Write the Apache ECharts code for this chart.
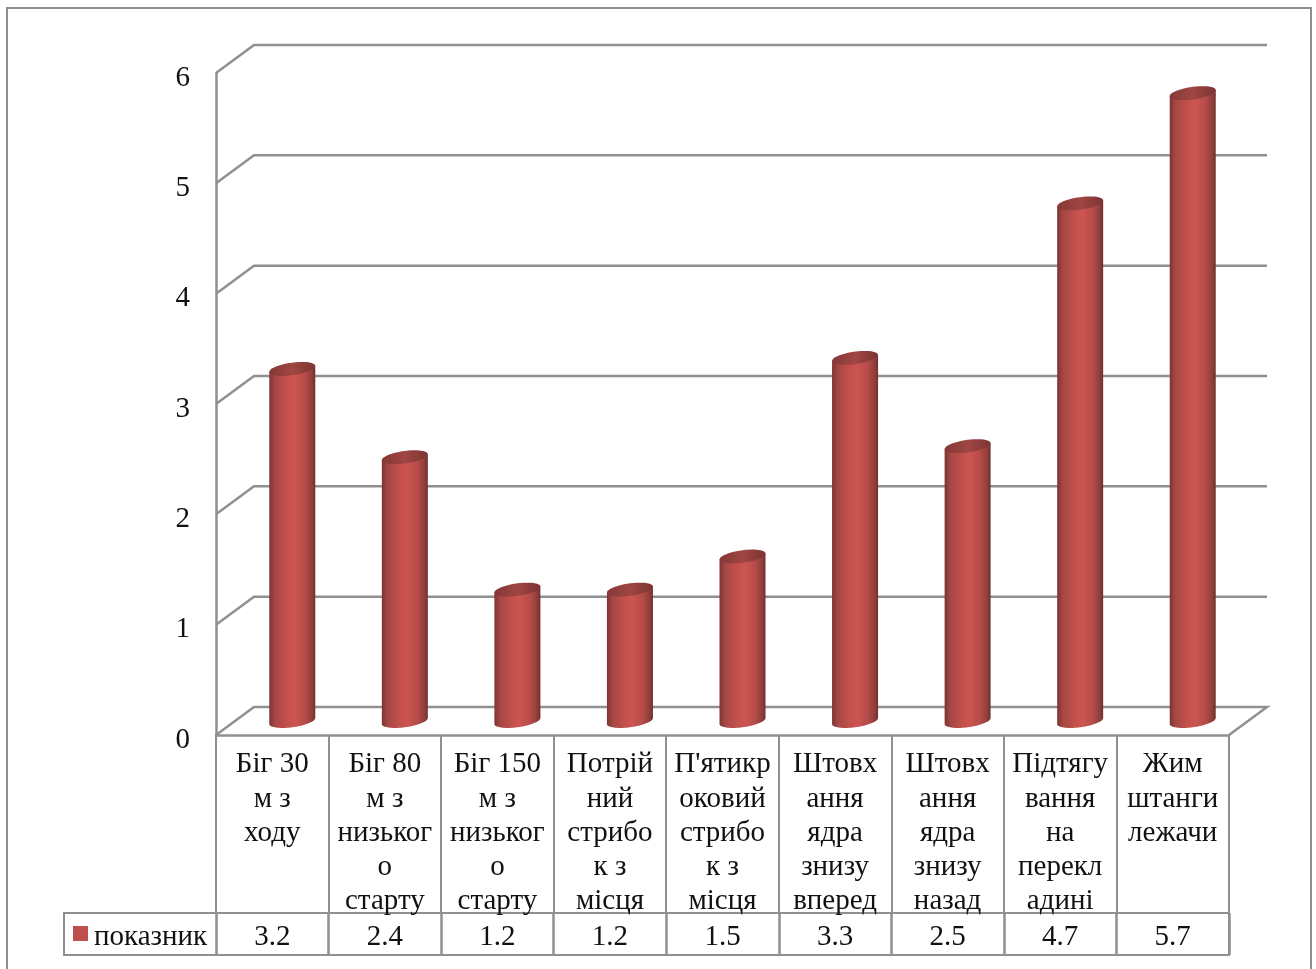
<!DOCTYPE html>
<html><head><meta charset="utf-8">
<style>html,body{margin:0;padding:0;background:#fff}#c{width:1316px;height:969px}</style>
<script src="https://cdn.jsdelivr.net/npm/echarts@6/dist/echarts.min.js"></script>
</head><body><div id="c"></div>
<script>
const categories = ['Біг 30\nм з\nходу','Біг 80\nм з\nнизьког\nо\nстарту','Біг 150\nм з\nнизьког\nо\nстарту','Потрій\nний\nстрибо\nк з\nмісця',"П'ятикр\nоковий\nстрибо\nк з\nмісця",'Штовх\nання\nядра\nзнизу\nвперед','Штовх\nання\nядра\nзнизу\nназад','Підтягу\nвання\nна\nперекл\nадині','Жим\nштанги\nлежачи'];
const values = [3.2,2.4,1.2,1.2,1.5,3.3,2.5,4.7,5.7];
const valueLabels = ['3.2','2.4','1.2','1.2','1.5','3.3','2.5','4.7','5.7'];
const yTicks = [0,1,2,3,4,5,6];
const seriesName = 'показник';

const FONT = '"Liberation Serif","Times New Roman",serif';
const LINE = '#909090', TEXT = '#111';
const DX = 38, DY = 28, BDX = 20, BDY = 13, RX = 23, RY = 6.3, TILT = 0.13;

function ellipsePts(cx, cy, from, to, n) {
  const p = [];
  for (let i = 0; i <= n; i++) {
    const t = from + (to - from) * i / n;
    p.push([cx + RX * Math.cos(t), cy + RY * Math.sin(t) - TILT * RX * Math.cos(t)]);
  }
  return p;
}
const sideGrad = {type:'linear',x:0,y:0,x2:1,y2:0,colorStops:[
  {offset:0,color:'#7c3432'},{offset:0.12,color:'#a44744'},{offset:0.35,color:'#c04f4b'},
  {offset:0.55,color:'#cd5551'},{offset:0.78,color:'#b54b48'},{offset:0.93,color:'#8f3e3b'},{offset:1,color:'#6f2f2d'}]};
const topGrad = {type:'linear',x:0,y:0,x2:1,y2:0,colorStops:[
  {offset:0,color:'#843836'},{offset:0.5,color:'#a04643'},{offset:1,color:'#7c3432'}]};

const chart = echarts.init(document.getElementById('c'), null, {renderer:'canvas'});
chart.setOption({
  animation:false,
  backgroundColor:'#fff',
  textStyle:{fontFamily:FONT},
  legend:{
    left:73, top:923, padding:0, itemWidth:15, itemHeight:15, itemGap:6, selectedMode:false,
    data:[{name:seriesName, icon:'rect', itemStyle:{color:'#c0504d'}}],
    formatter:n=>'{a|'+n+'}',
    textStyle:{rich:{a:{fontFamily:FONT,fontSize:29,color:TEXT,padding:[8,0,0,1]}}}
  },
  grid:{left:216,top:73,width:1013,height:662,containLabel:false},
  xAxis:[
    {type:'category',data:categories,position:'bottom',
     axisLine:{lineStyle:{color:LINE,width:2.5}},
     axisTick:{show:true,length:178,lineStyle:{color:LINE,width:2}},
     axisLabel:{interval:0,margin:12.5,fontFamily:FONT,fontSize:29,color:TEXT,lineHeight:34.3,align:'center',verticalAlign:'top'},
     splitLine:{show:false}},
    {type:'category',data:valueLabels,position:'bottom',offset:178,
     axisLine:{lineStyle:{color:LINE,width:2}},
     axisTick:{show:true,length:42,lineStyle:{color:LINE,width:2.5}},
     axisLabel:{interval:0,margin:9,fontFamily:FONT,fontSize:29,color:TEXT,lineHeight:30,verticalAlign:'top'},
     splitLine:{show:false}}
  ],
  yAxis:{type:'value',min:0,max:6,interval:1,
    axisLine:{show:true,lineStyle:{color:LINE,width:2.5}},
    axisTick:{show:false},splitLine:{show:false},
    axisLabel:{margin:26,fontFamily:FONT,fontSize:29,color:TEXT,verticalAlign:'top',lineHeight:10}},
  tooltip:{show:false},
  series:[
    {type:'custom',name:'walls',xAxisIndex:0,silent:true,clip:false,z:1,legendHoverLink:false,
     data:yTicks.map(v=>[0,v]),encode:{x:0,y:1},
     renderItem(params,api){
       const y = api.coord([0,api.value(1)])[1], g = params.coordSys, x0 = g.x, x1 = g.x+g.width;
       const pts = api.value(1)===0
         ? [[x0,y],[x0+DX,y-DY],[x1+DX,y-DY],[x1,y]]
         : [[x0,y],[x0+DX,y-DY],[x1+DX,y-DY]];
       return {type:'polyline',shape:{points:pts},style:{stroke:LINE,lineWidth:2.5,fill:null}};
     }},
    {type:'custom',name:seriesName,xAxisIndex:0,silent:true,clip:false,z:3,
     itemStyle:{color:'#c0504d'},
     data:values.map((v,i)=>[i,v]),encode:{x:0,y:1},
     renderItem(params,api){
       const top = api.coord([api.value(0),api.value(1)]), base = api.coord([api.value(0),0]);
       const cx = top[0]+BDX, ty = top[1]-BDY, by = base[1]-BDY-1;
       const lower = ellipsePts(cx,by,0,Math.PI,40);
       const body = [[cx+RX,ty-TILT*RX]].concat(lower).concat([[cx-RX,ty+TILT*RX]]);
       return {type:'group',children:[
         {type:'polygon',shape:{points:body},style:{fill:sideGrad}},
         {type:'polygon',shape:{points:ellipsePts(cx,ty,0,2*Math.PI,48)},style:{fill:topGrad}}
       ]};
     }}
  ],
  graphic:[
    {type:'rect',silent:true,z:0,shape:{x:64,y:913,width:1165,height:42},style:{fill:null,stroke:LINE,lineWidth:2}},
    {type:'polyline',silent:true,z:0,shape:{points:[[7,969],[7,8],[1311,8],[1311,969]]},style:{fill:null,stroke:LINE,lineWidth:2}}
  ]
});
</script></body></html>
